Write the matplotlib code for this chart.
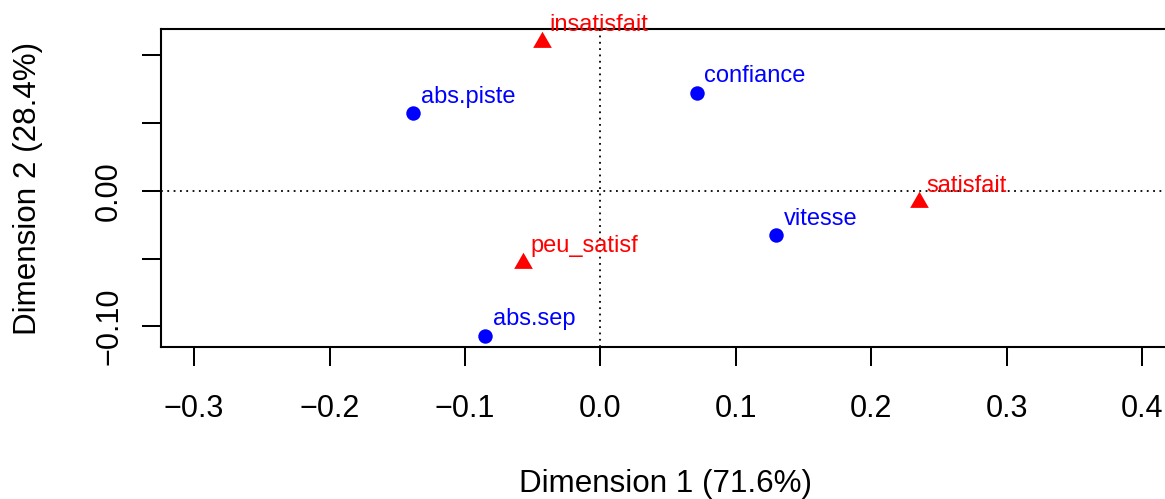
import matplotlib
matplotlib.use("Agg")
import matplotlib.pyplot as plt

plt.rcParams['font.family'] = ['Liberation Sans', 'DejaVu Sans']

# row categories (red triangles)
row_names = ["insatisfait", "peu_satisf", "satisfait"]
row_x = [-0.0429, -0.0574, 0.2351]
row_y = [0.1100, -0.0532, -0.0084]

# column categories (blue circles)
col_names = ["abs.piste", "abs.sep", "confiance", "vitesse"]
col_x = [-0.1382, -0.0850, 0.0711, 0.1297]
col_y = [0.0571, -0.1069, 0.0723, -0.0329]

xticks = [-0.3, -0.2, -0.1, 0.0, 0.1, 0.2, 0.3, 0.4]
xticklabels = ["\u22120.3", "\u22120.2", "\u22120.1", "0.0", "0.1", "0.2", "0.3", "0.4"]
yticks = [-0.10, -0.05, 0.00, 0.05, 0.10]
yticklabels = ["\u22120.10", "", "0.00", "", ""]

W, H = 1165, 499
fig = plt.figure(figsize=(W / 100, H / 100), dpi=100)
left, right, top, bottom = 161, 1170.6, 29, 347.3
ax = fig.add_axes([left / W, 1 - bottom / H, (right - left) / W, (bottom - top) / H])
ax.set_xlim(-0.3245, 0.4211)
ax.set_ylim(-0.1155, 0.1193)

ax.axhline(0, color='black', lw=1.3, linestyle=(0, (1, 2.5)), zorder=1)
ax.axvline(0, color='black', lw=1.3, linestyle=(0, (1, 2.5)), zorder=1)

tri = [(0, 1), (-0.866, -0.5), (0.866, -0.5)]
ax.plot(row_x, row_y, linestyle='none', marker=tri, markersize=15.5,
        color='red', markeredgewidth=0, zorder=3)
ax.plot(col_x, col_y, linestyle='none', marker='o', markersize=10.4,
        color='blue', markeredgewidth=0, zorder=3)

for name, x, y in zip(row_names, row_x, row_y):
    ax.annotate(name, (x, y), xytext=(7.5, 10.5), textcoords='offset pixels',
                ha='left', va='baseline', color='red', fontsize=17, zorder=4,
                annotation_clip=False)
for name, x, y in zip(col_names, col_x, col_y):
    ax.annotate(name, (x, y), xytext=(7.5, 10.5), textcoords='offset pixels',
                ha='left', va='baseline', color='blue', fontsize=17, zorder=4)

ax.set_xticks(xticks)
ax.set_xticklabels(xticklabels, fontsize=22)
ax.set_yticks(yticks)
ax.set_yticklabels(yticklabels, fontsize=22, rotation=90, va='center')
ax.tick_params(axis='x', length=13.5, width=1.45, pad=20)
ax.tick_params(axis='y', length=13.5, width=1.45, pad=13)
for s in ax.spines.values():
    s.set_linewidth(1.5)

ax.set_xlabel("Dimension 1 (71.6%)", fontsize=22.6)
ax.xaxis.label.set_va('center')
ax.xaxis.set_label_coords(0.5, (bottom - 484) / (bottom - top))
ax.set_ylabel("Dimension 2 (28.4%)", fontsize=22.6)
ax.yaxis.label.set_va('center')
ax.yaxis.set_label_coords((28 - left) / (right - left), 0.5)

fig.savefig("out.png", dpi=100)
